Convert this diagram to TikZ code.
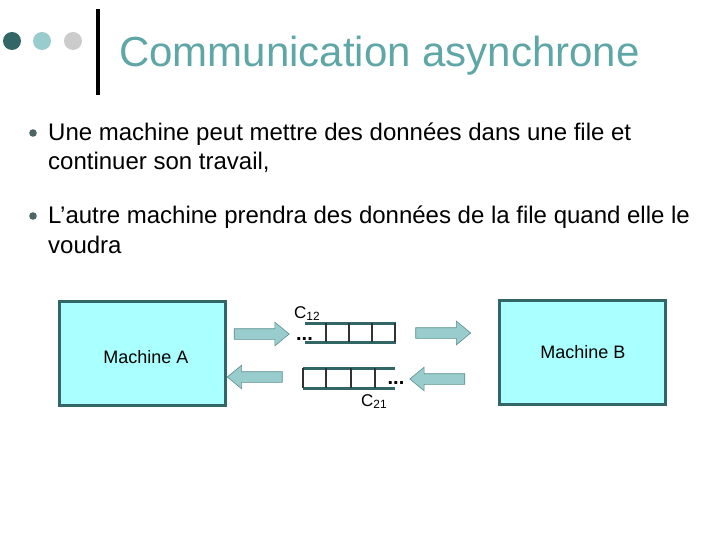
\documentclass[tikz,border=0pt]{standalone}
\usepackage{fontspec}
\setmainfont{Liberation Sans}
\usepackage{xcolor}
\usetikzlibrary{positioning, shapes.arrows}
\definecolor{tealdark}{HTML}{336666}
\definecolor{tealmid}{HTML}{99CCCC}
\definecolor{titleteal}{HTML}{5FA6A6}
\definecolor{dotgray}{HTML}{CCCCCC}
\definecolor{boxcyan}{HTML}{AAFFFF}
\definecolor{arrowline}{HTML}{5F8F8F}
\definecolor{bulletgray}{HTML}{4D6464}

\tikzset{
  machine/.style={draw=tealdark, line width=3pt, fill=boxcyan, minimum width=166pt, minimum height=104pt, inner sep=0pt},
  flow/.style={single arrow, draw=arrowline, fill=tealmid, line width=0.6pt, minimum height=55pt, single arrow head extend=6.5pt, single arrow tip angle=79, inner xsep=0pt, inner ysep=5pt},
  queueline/.style={draw=tealdark, line width=3pt},
  cell/.style={draw=black!80, line width=1.2pt},
  bullettext/.style={anchor=base west, inner sep=0pt, font=\fontsize{24}{29}\selectfont, align=left},
  plain/.style={inner sep=0pt, font=\fontsize{18}{20}\selectfont},
}

\begin{document}
\begin{tikzpicture}[x=1pt, y=-1pt]
    \useasboundingbox[fill=white] (0,0) rectangle (720,540);

    % Title bar
    \fill[tealdark] (12,41) circle (9);
    \fill[tealmid] (42,41) circle (9);
    \fill[dotgray] (73,41) circle (9);
    \draw[line width=3.5pt] (98,9) -- (98,95);
    \node[anchor=base west, inner sep=0pt, text=titleteal, font=\fontsize{42}{46}\selectfont] (title) at (119,67) {Communication asynchrone};

    % Bullets
    \fill[bulletgray] (33,133) circle (3.8);
    \node[bullettext] (item1) at (48,170) {Une machine peut mettre des données dans une file et\\continuer son travail,};
    \fill[bulletgray] (33,216) circle (3.8);
    \node[bullettext] (item2) at (48,253) {L’autre machine prendra des données de la file quand elle le\\voudra};

    % Machines
    \node[machine] (machA) at (142.5,353.5) {};
    \node[machine] (machB) at (582,352) {};
    \node[plain] (labelA) at (146,357) {Machine A};
    \node[plain] (labelB) at (583,352) {Machine B};

    % Arrows
    \node[flow] (sendA) at (258.5,334) {};
    \node[flow] (recvB) at (440,333) {};
    \node[flow, shape border rotate=180] (recvA) at (258,377) {};
    \node[flow, shape border rotate=180] (sendB) at (440.5,379) {};

    % Queue C12
    \draw[queueline] (305,323) -- (396,323);
    \draw[queueline] (305,342) -- (396,342);
    \foreach \x in {326,349,372,395}
        \draw[cell] (\x,323) -- (\x,342);
    \node[anchor=base, inner sep=0pt, font=\fontsize{20}{20}\selectfont\bfseries] (dots12) at (304.5,340) {...};
    \node[anchor=base west, inner sep=0pt, font=\fontsize{17}{20}\selectfont] (c12) at (294,318) {C\textsubscript{12}};

    % Queue C21
    \draw[queueline] (303,368) -- (395,368);
    \draw[queueline] (303,388) -- (395,388);
    \foreach \x in {303,326,351,375}
        \draw[cell] (\x,368) -- (\x,388);
    \node[anchor=base, inner sep=0pt, font=\fontsize{20}{20}\selectfont\bfseries] (dots21) at (396,384) {...};
    \node[anchor=base west, inner sep=0pt, font=\fontsize{17}{20}\selectfont] (c21) at (361,406) {C\textsubscript{21}};
\end{tikzpicture}
\end{document}
